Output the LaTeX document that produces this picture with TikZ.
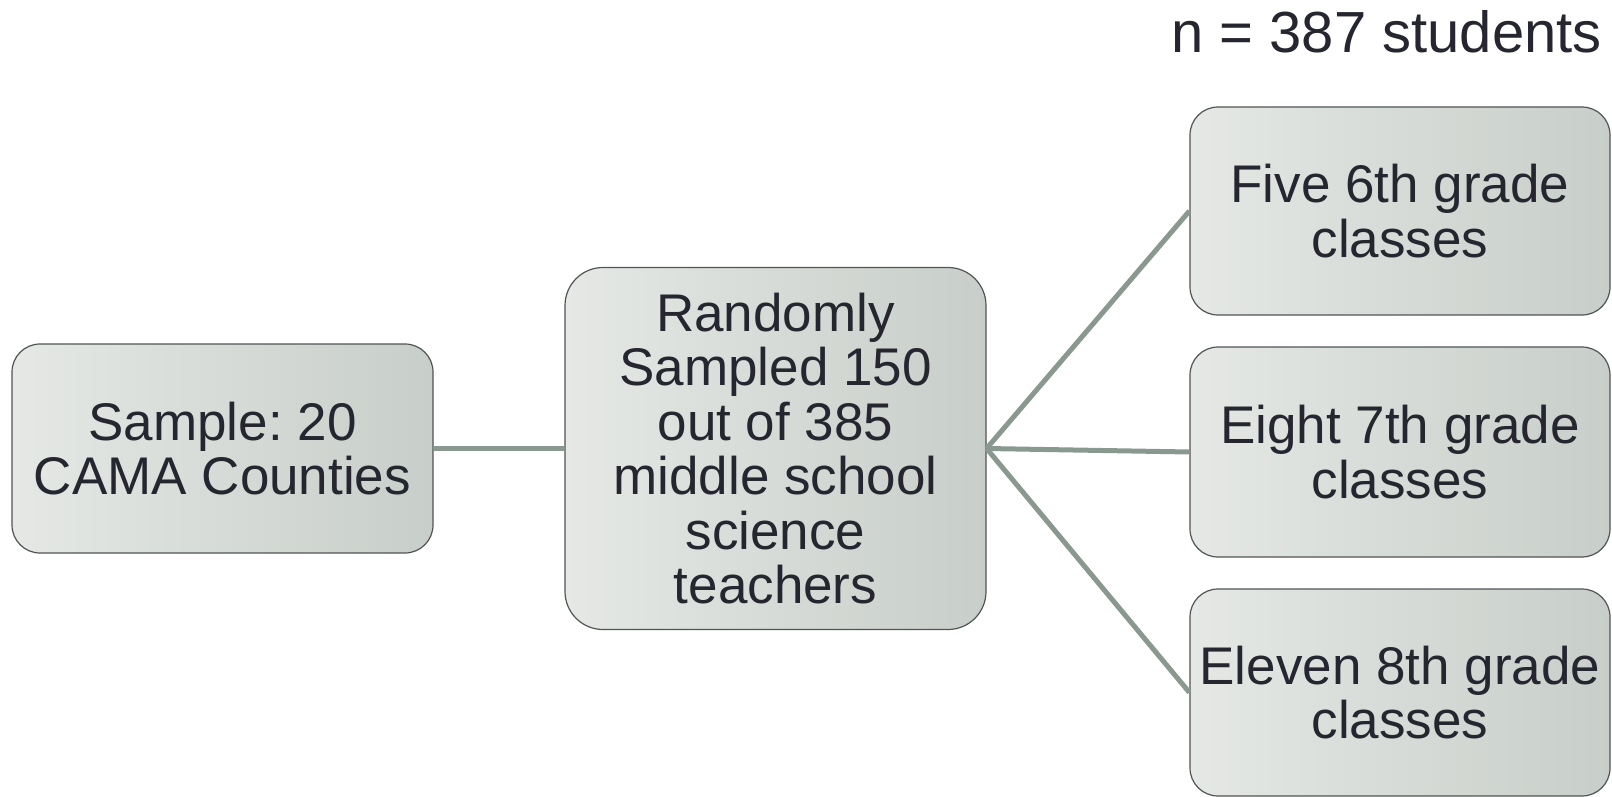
\documentclass[tikz,border=0pt]{standalone}
\usepackage{fontspec}
\setmainfont{Liberation Sans}
\frenchspacing
\definecolor{txt}{HTML}{25262F}
\definecolor{fillA}{HTML}{E5E8E5}
\definecolor{fillB}{HTML}{C8CEC9}
\definecolor{edgec}{HTML}{505454}
\definecolor{conn}{HTML}{8A9990}
\tikzset{
  box/.style={draw=edgec, line width=1.2pt, left color=fillA, right color=fillB,
    rounded corners=28pt, align=center, inner sep=0pt, text=txt,
    font=\fontsize{53}{54.5}\selectfont},
  link/.style={draw=conn, line width=5pt}
}
\begin{document}
\begin{tikzpicture}[x=1pt,y=1pt]
\useasboundingbox (0,0) rectangle (1612,-797);
\node[box, minimum width=421pt, minimum height=209pt] (left) at (222.5,-448.5) {Sample: 20\\CAMA Counties};
\node[box, minimum width=421pt, minimum height=362pt, rounded corners=38pt] (mid) at (775.5,-448.5) {Randomly\\Sampled 150\\out of 385\\middle school\\science\\teachers};
\node[box, minimum width=420pt, minimum height=208pt] (r1) at (1400,-211) {Five 6th grade\\classes};
\node[box, minimum width=420pt, minimum height=210pt] (r2) at (1400,-452) {Eight 7th grade\\classes};
\node[box, minimum width=420pt, minimum height=207pt] (r3) at (1400,-692.5) {Eleven 8th grade\\classes};
\node[anchor=base east, text=txt, font=\fontsize{58}{62}\selectfont, inner sep=0pt] (title) at (1602,-53) {n = 387 students};
\draw[link] (left.east) -- (mid.west);
\draw[link] (mid.east) -- (r1.west);
\draw[link] (mid.east) -- (r2.west);
\draw[link] (mid.east) -- (r3.west);
\end{tikzpicture}
\end{document}
